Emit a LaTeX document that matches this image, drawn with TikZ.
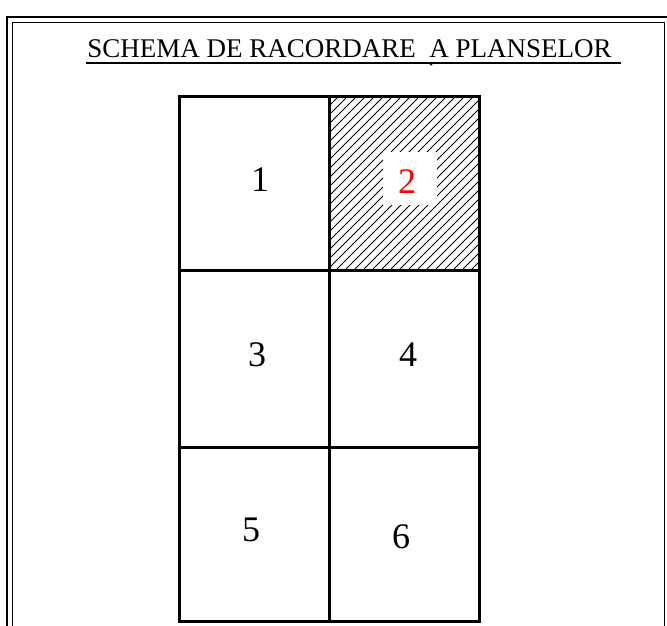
\documentclass[tikz,border=0pt]{standalone}
\usepackage{fontspec}
\setmainfont{Liberation Serif}
\begin{document}
\begin{tikzpicture}[x=1pt,y=-1pt,
  cell/.style={draw,line width=2.6pt,minimum width=150pt,minimum height=175pt,inner sep=0pt,anchor=north west},
  num/.style={font=\fontsize{36}{36}\selectfont,inner sep=0pt},
  hatchline/.style={line width=0.8pt}]
\useasboundingbox (0,0) rectangle (667,625);
\begin{scope}
\clip (0,0) rectangle (667,625);
\draw[line width=2.6pt] (7,17) rectangle (680,640);
\draw[line width=1pt] (12,22) rectangle (664,640);
\end{scope}
\node[font=\fontsize{27}{27}\selectfont,inner sep=0pt,anchor=base] (title) at (349.5,57) {SCHEMA DE RACORDARE\ \ A PLANSELOR};
\coordinate (ulA) at (86,63);
\coordinate (ulB) at (621,63);
\draw[line width=1.2pt] (ulA) -- (ulB);
\fill (431,64) circle (1.5pt);
% hatching in cell 2
\begin{scope}
\clip (328,95) rectangle (478,269);
\foreach \k in {0,9,...,330} {
  \draw[hatchline] (328+\k-180,269) -- (328+\k,89);
}
\end{scope}
\fill[white] (383,152) rectangle (437,205);
\node[cell,minimum height=174pt] (c1) at (178,95) {};
\node[cell,minimum height=174pt] (c2) at (328,95) {};
\node[cell,minimum height=177pt] (c3) at (178,269) {};
\node[cell,minimum height=177pt] (c4) at (328,269) {};
\node[cell,minimum height=174pt] (c5) at (178,446) {};
\node[cell,minimum height=174pt] (c6) at (328,446) {};
\node[num] (n1) at (260,180) {1};
\node[num,text=red] (n2) at (407,182) {2};
\node[num] (n3) at (257,355) {3};
\node[num] (n4) at (408,355) {4};
\node[num] (n5) at (251,530) {5};
\node[num] (n6) at (401,537) {6};
\end{tikzpicture}
\end{document}
